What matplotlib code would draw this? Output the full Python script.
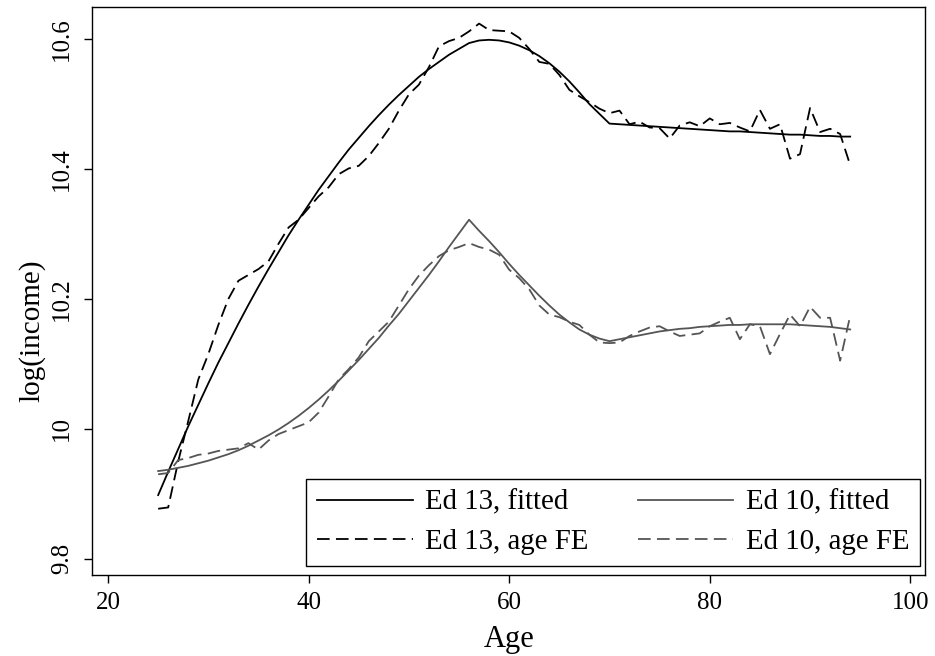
import matplotlib
matplotlib.use("Agg")
import matplotlib.pyplot as plt

plt.rcParams['font.family'] = ['Liberation Serif', 'DejaVu Serif']

ages = list(range(25, 95))

ed13_fitted = [
    9.898, 9.934, 9.969, 10.004, 10.037, 10.070, 10.102, 10.132, 10.162, 10.191,
    10.219, 10.246, 10.272, 10.298, 10.322, 10.345, 10.368, 10.389, 10.410, 10.430,
    10.448, 10.466, 10.483, 10.499, 10.514, 10.528, 10.542, 10.554, 10.565, 10.576,
    10.585, 10.594, 10.598, 10.599, 10.598, 10.595, 10.590, 10.583, 10.574, 10.563,
    10.550, 10.535, 10.518, 10.500, 10.485, 10.470, 10.469, 10.468, 10.467, 10.466,
    10.465, 10.464, 10.463, 10.462, 10.461, 10.460, 10.459, 10.458, 10.458, 10.457,
    10.456, 10.455, 10.454, 10.453, 10.453, 10.452, 10.451, 10.451, 10.450, 10.450]

ed13_fe = [
    9.877, 9.879, 9.950, 10.012, 10.076, 10.115, 10.160, 10.200, 10.228, 10.237,
    10.246, 10.258, 10.285, 10.310, 10.322, 10.340, 10.358, 10.372, 10.392, 10.401,
    10.405, 10.420, 10.440, 10.462, 10.490, 10.515, 10.530, 10.557, 10.589, 10.597,
    10.602, 10.612, 10.624, 10.614, 10.613, 10.612, 10.602, 10.585, 10.565, 10.562,
    10.545, 10.522, 10.512, 10.503, 10.493, 10.486, 10.490, 10.469, 10.473, 10.464,
    10.463, 10.447, 10.467, 10.472, 10.466, 10.478, 10.469, 10.471, 10.464, 10.458,
    10.491, 10.462, 10.469, 10.416, 10.423, 10.494, 10.457, 10.462, 10.454, 10.406]

ed10_fitted = [
    9.935, 9.937, 9.940, 9.943, 9.947, 9.951, 9.956, 9.961, 9.967, 9.974,
    9.982, 9.990, 9.999, 10.009, 10.020, 10.032, 10.045, 10.059, 10.074, 10.090,
    10.106, 10.123, 10.140, 10.159, 10.177, 10.197, 10.217, 10.237, 10.258, 10.280,
    10.301, 10.322, 10.305, 10.289, 10.272, 10.254, 10.237, 10.221, 10.205, 10.190,
    10.176, 10.164, 10.153, 10.145, 10.139, 10.135, 10.138, 10.141, 10.144, 10.147,
    10.150, 10.152, 10.154, 10.155, 10.157, 10.158, 10.159, 10.160, 10.160, 10.161,
    10.161, 10.161, 10.161, 10.161, 10.160, 10.159, 10.158, 10.157, 10.155, 10.153]

ed10_fe = [
    9.930, 9.932, 9.952, 9.955, 9.960, 9.962, 9.966, 9.968, 9.970, 9.978,
    9.968, 9.982, 9.992, 9.998, 10.004, 10.010, 10.025, 10.050, 10.076, 10.092,
    10.110, 10.135, 10.150, 10.165, 10.190, 10.215, 10.236, 10.252, 10.266, 10.275,
    10.280, 10.286, 10.280, 10.276, 10.268, 10.245, 10.232, 10.215, 10.190, 10.176,
    10.172, 10.165, 10.160, 10.145, 10.133, 10.132, 10.133, 10.143, 10.150, 10.156,
    10.158, 10.150, 10.143, 10.145, 10.147, 10.158, 10.165, 10.171, 10.138, 10.161,
    10.158, 10.115, 10.146, 10.176, 10.158, 10.188, 10.171, 10.171, 10.105, 10.174]

x_ticks = [20, 40, 60, 80, 100]
y_ticks = [9.8, 10.0, 10.2, 10.4, 10.6]
y_tick_labels = ["9.8", "10", "10.2", "10.4", "10.6"]

gray = "#555555"
dash = (0, (7, 3.5))

fig = plt.figure(figsize=(9.35, 6.56), dpi=100)
ax = fig.add_axes([0.0989, 0.1235, 0.8904, 0.8663])

ax.plot(ages, ed13_fitted, color="black", lw=1.3, label="Ed 13, fitted")
ax.plot(ages, ed13_fe, color="black", lw=1.3, linestyle=dash, label="Ed 13, age FE")
ax.plot(ages, ed10_fitted, color=gray, lw=1.3, label="Ed 10, fitted")
ax.plot(ages, ed10_fe, color=gray, lw=1.3, linestyle=dash, label="Ed 10, age FE")

ax.set_xlim(18.45, 101.46)
ax.set_ylim(9.775, 10.650)
ax.set_xticks(x_ticks)
ax.set_xticklabels([str(t) for t in x_ticks], fontsize=18)
ax.set_yticks(y_ticks)
ax.set_yticklabels(y_tick_labels, fontsize=18, rotation=90, va="center")
ax.tick_params(direction="out", length=6, width=1.0, colors="black")
ax.tick_params(axis="x", pad=6)
ax.tick_params(axis="y", pad=8)
for s in ax.spines.values():
    s.set_linewidth(1.0)
    s.set_color("black")

ax.set_xlabel("Age", fontsize=22, labelpad=8)
ax.set_ylabel("log(income)", fontsize=21)
ax.yaxis.set_label_coords(-0.057, 0.43)

leg = ax.legend(ncol=2, loc="lower left",
                bbox_to_anchor=(0.257, 0.0158, 0.737, 0.155), mode="expand",
                borderaxespad=0, fontsize=20.8, handlelength=3.3, handletextpad=0.43,
                fancybox=False, edgecolor="black", framealpha=1,
                labelspacing=0.45, borderpad=0.38)
leg.get_frame().set_linewidth(1.0)

fig.savefig("out.png", dpi=100)
